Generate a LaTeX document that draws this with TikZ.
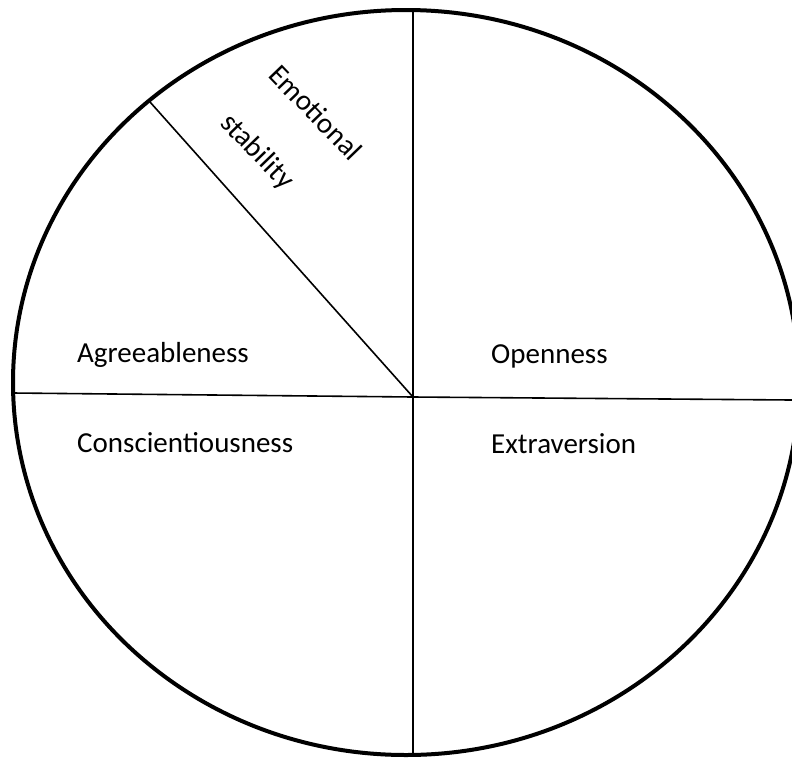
\documentclass[tikz,border=0pt]{standalone}
\usepackage{fontspec}
\setmainfont{Carlito}
\begin{document}
\begin{tikzpicture}[x=1pt,y=-1pt,
  lbl/.style={anchor=base west, inner sep=0pt, font=\fontsize{29}{35}\selectfont},
  rim/.style={line width=4pt},
  divider/.style={line width=1.6pt}]
\useasboundingbox (0,0) rectangle (792,758);
\clip (0,0) rectangle (792,758);
\fill[white] (0,0) rectangle (792,758);
\coordinate (O) at (413,397);
\coordinate (T) at (413,10);
\coordinate (B) at (413,755);
\coordinate (L) at (13,393);
\coordinate (R) at (792,400);
\coordinate (D) at (150,102);
\draw[rim] (406,382.5) ellipse [x radius=393pt, y radius=372.5pt];
\draw[divider] (T) -- (B);
\draw[divider] (L) -- (O) -- (R);
\draw[divider] (O) -- (D);
\node[lbl] (agr) at (77,362) {Agreeableness};
\node[lbl] (con) at (77,452) {Conscientiousness};
\node[lbl] (ope) at (491,363) {Openness};
\node[lbl] (ext) at (491,453) {Extraversion};
\node[lbl, rotate=-46] (emo) at (267,76) {Emotional};
\node[lbl, rotate=-46] (sta) at (219,124) {stability};
\end{tikzpicture}
\end{document}
